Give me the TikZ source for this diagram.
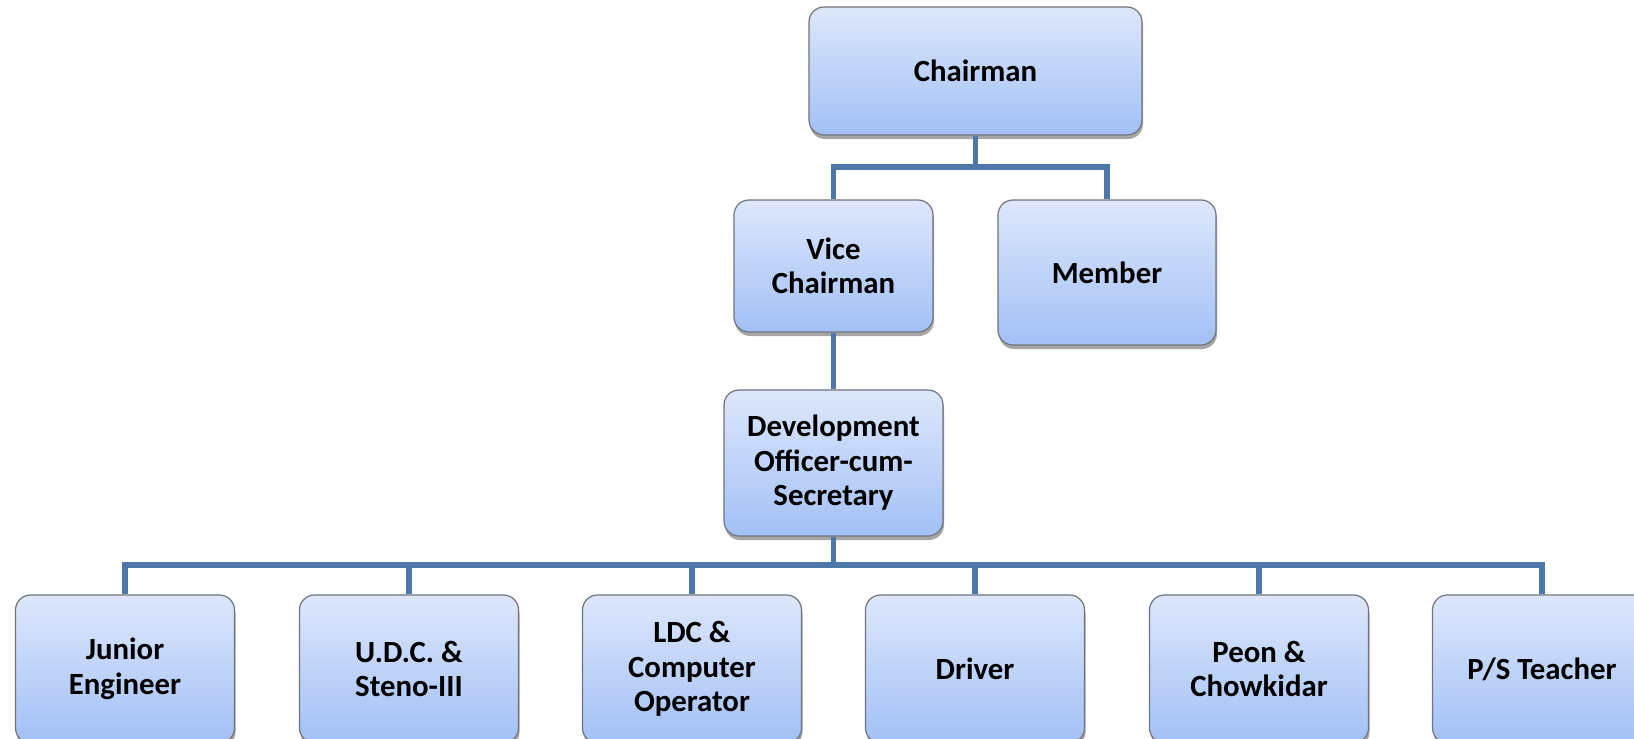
\documentclass[tikz,border=0pt]{standalone}
\usepackage{fontspec}
\setmainfont{Carlito}
\usetikzlibrary{shadows}
\definecolor{boxtop}{HTML}{DDE7FB}
\definecolor{boxbot}{HTML}{A2C0F6}
\definecolor{boxline}{HTML}{6F747C}
\definecolor{conn}{HTML}{4C77A8}
\tikzset{
  orgbox/.style={draw=boxline, line width=1.2pt, rounded corners=15pt,
    top color=boxtop, bottom color=boxbot, align=center,
    font=\fontsize{30.8}{34.5}\selectfont\bfseries, inner sep=0pt,
    drop shadow={shadow xshift=1pt, shadow yshift=-4pt, opacity=0.35, fill=black}},
  link/.style={draw=conn, line width=5.5pt}
}
\begin{document}
\begin{tikzpicture}[x=1pt,y=-1pt]
\useasboundingbox (0,0) rectangle (1634,739);
\node[orgbox, minimum width=333pt, minimum height=128pt] (ch) at (975.5,71) {Chairman};
\node[orgbox, minimum width=199pt, minimum height=132pt] (vc) at (833.5,266) {Vice\\Chairman};
\node[orgbox, minimum width=218pt, minimum height=145pt] (mem) at (1107,272.5) {Member};
\node[orgbox, minimum width=219pt, minimum height=146pt] (dev) at (833.5,463) {Development\\Officer-cum-\\Secretary};
\node[orgbox, minimum width=219pt, minimum height=148pt] (je) at (125,669) {Junior\\Engineer};
\node[orgbox, minimum width=219pt, minimum height=148pt] (udc) at (409,669) {U.D.C. \&\\Steno-III};
\node[orgbox, minimum width=219pt, minimum height=148pt] (ldc) at (692,669) {LDC \&\\Computer\\Operator};
\node[orgbox, minimum width=219pt, minimum height=148pt] (drv) at (975,669) {Driver};
\node[orgbox, minimum width=219pt, minimum height=148pt] (peon) at (1259,669) {Peon \&\\Chowkidar};
\node[orgbox, minimum width=219pt, minimum height=148pt] (ps) at (1542,669) {P/S Teacher};
\coordinate (b1) at (0,167);
\coordinate (b2) at (0,565);
\begin{scope}[on background layer/.try]
\draw[link] (ch.south) -- (ch.south |- b1);
\draw[link] (vc.north) -- (vc.north |- b1) -- (mem.north |- b1) -- (mem.north);
\draw[link] (vc.south) -- (dev.north);
\draw[link] (dev.south) -- (dev.south |- b2);
\draw[link] (je.north) -- (je.north |- b2) -- (ps.north |- b2) -- (ps.north);
\draw[link] (udc.north) -- (udc.north |- b2);
\draw[link] (ldc.north) -- (ldc.north |- b2);
\draw[link] (drv.north) -- (drv.north |- b2);
\draw[link] (peon.north) -- (peon.north |- b2);
\end{scope}
\end{tikzpicture}
\end{document}
